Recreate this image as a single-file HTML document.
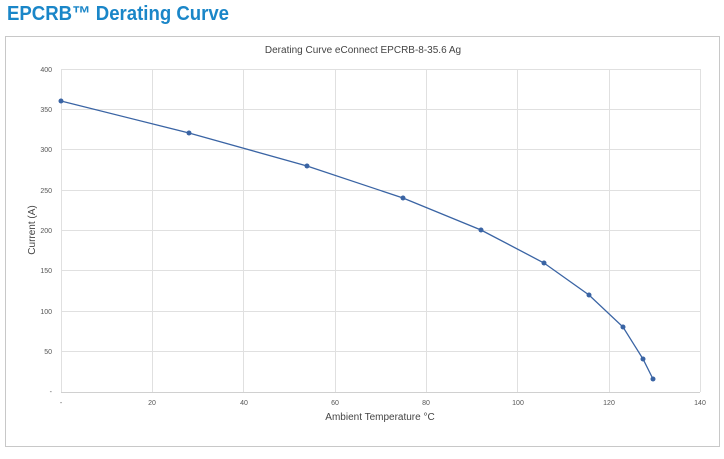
<!DOCTYPE html>
<html><head><style>
body{margin:0;width:724px;height:454px;background:#fff;overflow:hidden}
</style></head><body>
<svg width="724" height="454" xmlns="http://www.w3.org/2000/svg" font-family="Liberation Sans, sans-serif">
<text x="7" y="20" font-size="20" font-weight="bold" fill="#1a86c8" textLength="222" lengthAdjust="spacingAndGlyphs">EPCRB™ Derating Curve</text>
<rect x="5.5" y="36.5" width="714" height="410" fill="#fff" stroke="#c8c8c8"/>
<text x="363" y="53" font-size="10" fill="#444" text-anchor="middle">Derating Curve eConnect EPCRB-8-35.6 Ag</text>
<g stroke="#e0e0e0" stroke-width="1">
<line x1="61" y1="69.5" x2="700" y2="69.5"/><line x1="61" y1="109.5" x2="700" y2="109.5"/>
<line x1="61" y1="149.5" x2="700" y2="149.5"/><line x1="61" y1="190.5" x2="700" y2="190.5"/>
<line x1="61" y1="230.5" x2="700" y2="230.5"/><line x1="61" y1="270.5" x2="700" y2="270.5"/>
<line x1="61" y1="311.5" x2="700" y2="311.5"/><line x1="61" y1="351.5" x2="700" y2="351.5"/>
<line x1="61.5" y1="69" x2="61.5" y2="392"/><line x1="152.5" y1="69" x2="152.5" y2="392"/>
<line x1="243.5" y1="69" x2="243.5" y2="392"/><line x1="335.5" y1="69" x2="335.5" y2="392"/>
<line x1="426.5" y1="69" x2="426.5" y2="392"/><line x1="517.5" y1="69" x2="517.5" y2="392"/>
<line x1="609.5" y1="69" x2="609.5" y2="392"/><line x1="700.5" y1="69" x2="700.5" y2="392"/>
</g>
<line x1="61" y1="392.5" x2="700" y2="392.5" stroke="#d0d0d0"/>
<g font-size="7" fill="#555" text-anchor="end">
<text x="52" y="72">400</text><text x="52" y="112">350</text><text x="52" y="152">300</text>
<text x="52" y="193">250</text><text x="52" y="233">200</text><text x="52" y="273">150</text>
<text x="52" y="314">100</text><text x="52" y="354">50</text><text x="52" y="394">-</text>
</g>
<g font-size="7" fill="#555" text-anchor="middle">
<text x="61" y="405">-</text><text x="152" y="405">20</text><text x="244" y="405">40</text>
<text x="335" y="405">60</text><text x="426" y="405">80</text><text x="518" y="405">100</text>
<text x="609" y="405">120</text><text x="700" y="405">140</text>
</g>
<text x="380" y="420" font-size="10" fill="#444" text-anchor="middle">Ambient Temperature °C</text>
<text transform="translate(35,230) rotate(-90)" font-size="10" fill="#444" text-anchor="middle">Current (A)</text>
<polyline fill="none" stroke="#3a64a4" stroke-width="1.3" points="61,101 189,133 307,166 403,198 481,230 544,263 589,295 623,327 643,359 653,379"/>
<g fill="#3a64a4">
<circle cx="61" cy="101" r="2.5"/><circle cx="189" cy="133" r="2.5"/><circle cx="307" cy="166" r="2.5"/>
<circle cx="403" cy="198" r="2.5"/><circle cx="481" cy="230" r="2.5"/><circle cx="544" cy="263" r="2.5"/>
<circle cx="589" cy="295" r="2.5"/><circle cx="623" cy="327" r="2.5"/><circle cx="643" cy="359" r="2.5"/>
<circle cx="653" cy="379" r="2.5"/>
</g>
</svg>
</body></html>
